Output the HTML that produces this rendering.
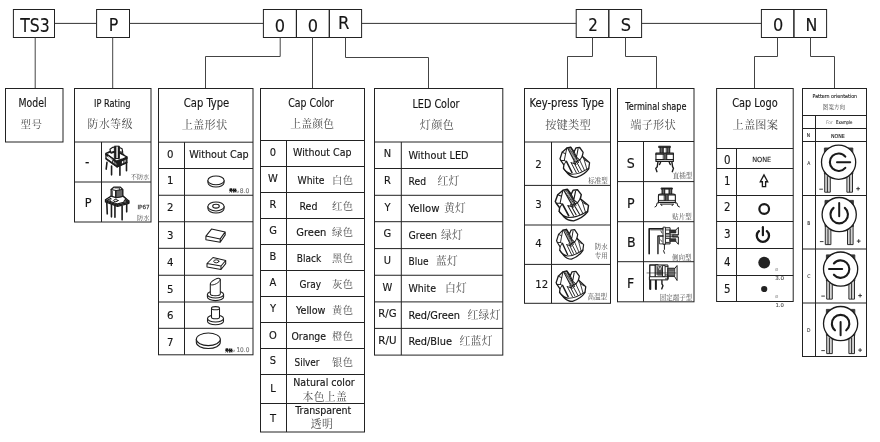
<!DOCTYPE html>
<html lang="zh"><head><meta charset="utf-8"><title>TS3 ordering code</title>
<style>
html,body{margin:0;padding:0;background:#fff}
svg{display:block;will-change:transform}
text.l{font-family:"DejaVu Sans Condensed","Liberation Sans",sans-serif}
text.c{font-family:"Liberation Serif","Noto Serif CJK SC",serif;font-weight:400}
path,rect,line{shape-rendering:auto}
</style></head><body>
<svg width="880" height="442" viewBox="0 0 880 442">
<rect x="0" y="0" width="880" height="442" fill="#fff" stroke="none"/>
<g fill="none">
<rect x="13.4" y="9.5" width="41.1" height="28.0" stroke="#222" stroke-width="1" fill="none"/>
<rect x="96.6" y="9.5" width="32.900000000000006" height="28.0" stroke="#222" stroke-width="1" fill="none"/>
<rect x="263.4" y="9.5" width="33.0" height="28.0" stroke="#222" stroke-width="1" fill="none"/>
<rect x="296.4" y="9.5" width="32.900000000000034" height="28.0" stroke="#222" stroke-width="1" fill="none"/>
<rect x="329.3" y="9.5" width="32.30000000000001" height="28.0" stroke="#222" stroke-width="1" fill="none"/>
<rect x="576.2" y="9.5" width="32.59999999999991" height="28.0" stroke="#222" stroke-width="1" fill="none"/>
<rect x="608.8" y="9.5" width="32.80000000000007" height="28.0" stroke="#222" stroke-width="1" fill="none"/>
<rect x="761.4" y="9.5" width="32.5" height="28.0" stroke="#222" stroke-width="1" fill="none"/>
<rect x="793.9" y="9.5" width="32.700000000000045" height="28.0" stroke="#222" stroke-width="1" fill="none"/>
<path d="M54.5 23.4L96.6 23.4" stroke="#333" stroke-width="1"/>
<path d="M129.5 23.4L263.4 23.4" stroke="#333" stroke-width="1"/>
<path d="M361.6 23.4L576.2 23.4" stroke="#333" stroke-width="1"/>
<path d="M641.6 23.4L761.4 23.4" stroke="#333" stroke-width="1"/>
<path d="M35.2 37.5L35.2 88" stroke="#444" stroke-width="1" fill="none"/>
<path d="M112.7 37.5L112.7 88" stroke="#444" stroke-width="1" fill="none"/>
<path d="M280.2 37.5L280.2 56.5L205.5 56.5L205.5 88" stroke="#444" stroke-width="1" fill="none"/>
<path d="M312.5 37.5L312.5 88" stroke="#444" stroke-width="1" fill="none"/>
<path d="M345.5 37.5L345.5 57.5L428.5 57.5L428.5 88" stroke="#444" stroke-width="1" fill="none"/>
<path d="M592.5 37.5L592.5 56.5L567.5 56.5L567.5 88" stroke="#444" stroke-width="1" fill="none"/>
<path d="M625.5 37.5L625.5 56.5L656.5 56.5L656.5 88" stroke="#444" stroke-width="1" fill="none"/>
<path d="M777.5 37.5L777.5 56.5L754.5 56.5L754.5 88" stroke="#444" stroke-width="1" fill="none"/>
<path d="M810.5 37.5L810.5 56.5L834.5 56.5L834.5 88" stroke="#444" stroke-width="1" fill="none"/>
<text class="l" x="35" y="31.7" font-size="19.5" text-anchor="middle" fill="#151515" stroke="#151515" stroke-width="0.14" textLength="29.5" lengthAdjust="spacingAndGlyphs">TS3</text>
<text class="l" x="113.4" y="30.8" font-size="17.6" text-anchor="middle" fill="#151515" stroke="#151515" stroke-width="0.14">P</text>
<text class="l" x="279.8" y="31.6" font-size="17.6" text-anchor="middle" fill="#151515" stroke="#151515" stroke-width="0.14" textLength="10.3" lengthAdjust="spacingAndGlyphs">0</text>
<text class="l" x="312.8" y="31.6" font-size="17.6" text-anchor="middle" fill="#151515" stroke="#151515" stroke-width="0.14" textLength="10.3" lengthAdjust="spacingAndGlyphs">0</text>
<text class="l" x="343.6" y="28.9" font-size="18.3" text-anchor="middle" fill="#151515" stroke="#151515" stroke-width="0.14">R</text>
<text class="l" x="593" y="31.3" font-size="17.6" text-anchor="middle" fill="#151515" stroke="#151515" stroke-width="0.14" textLength="9.6" lengthAdjust="spacingAndGlyphs">2</text>
<text class="l" x="626" y="31.3" font-size="18" text-anchor="middle" fill="#151515" stroke="#151515" stroke-width="0.14">S</text>
<text class="l" x="778.1" y="31.4" font-size="17.6" text-anchor="middle" fill="#151515" stroke="#151515" stroke-width="0.14" textLength="10.3" lengthAdjust="spacingAndGlyphs">0</text>
<text class="l" x="811.5" y="31.1" font-size="17.6" text-anchor="middle" fill="#151515" stroke="#151515" stroke-width="0.14">N</text>
<rect x="5.5" y="88.5" width="57.5" height="53.5" stroke="#222" stroke-width="1" fill="none"/>
<text class="l" x="32.5" y="107.3" font-size="11.5" text-anchor="middle" fill="#151515" stroke="#151515" stroke-width="0.14" textLength="28" lengthAdjust="spacingAndGlyphs">Model</text>
<text class="c" x="31.5" y="128" font-size="10.5" text-anchor="middle" fill="#4a4a4a" letter-spacing="0.5">型号</text>
<rect x="74.5" y="88.5" width="76.5" height="133.5" stroke="#222" stroke-width="1" fill="none"/>
<path d="M74.5 142L151 142" stroke="#222" stroke-width="1"/>
<path d="M74.5 182L151 182" stroke="#222" stroke-width="1"/>
<path d="M101.5 142L101.5 222" stroke="#222" stroke-width="1"/>
<text class="l" x="112.3" y="107.3" font-size="10.5" text-anchor="middle" fill="#151515" stroke="#151515" stroke-width="0.14" textLength="36.5" lengthAdjust="spacingAndGlyphs">IP Rating</text>
<text class="c" x="110.3" y="128" font-size="10.8" text-anchor="middle" fill="#4a4a4a" letter-spacing="0.6">防水等级</text>
<text class="l" x="87.3" y="167.3" font-size="13.5" text-anchor="middle" fill="#151515" stroke="#151515" stroke-width="0.14">-</text>
<text class="l" x="88.2" y="207.2" font-size="12.5" text-anchor="middle" fill="#151515" stroke="#151515" stroke-width="0.14">P</text>
<text class="c" x="149.3" y="179" font-size="6.2" text-anchor="end" fill="#4a4a4a">不防水</text>
<text class="l" x="149.6" y="209.3" font-size="5.6" text-anchor="end" fill="#444" stroke="#444" stroke-width="0.25" textLength="12.2" lengthAdjust="spacingAndGlyphs">IP67</text>
<text class="c" x="149.4" y="219.8" font-size="6.2" text-anchor="end" fill="#4a4a4a">防水</text>
<rect x="158.5" y="88.5" width="94.5" height="266.3" stroke="#222" stroke-width="1" fill="none"/>
<path d="M158.5 142.2L253 142.2" stroke="#222" stroke-width="1"/>
<path d="M158.5 168.5L253 168.5" stroke="#222" stroke-width="1"/>
<path d="M158.5 195.25L253 195.25" stroke="#222" stroke-width="1"/>
<path d="M158.5 221.75L253 221.75" stroke="#222" stroke-width="1"/>
<path d="M158.5 248.3L253 248.3" stroke="#222" stroke-width="1"/>
<path d="M158.5 275.25L253 275.25" stroke="#222" stroke-width="1"/>
<path d="M158.5 302L253 302" stroke="#222" stroke-width="1"/>
<path d="M158.5 328.3L253 328.3" stroke="#222" stroke-width="1"/>
<path d="M184.5 142.2L184.5 354.8" stroke="#222" stroke-width="1"/>
<text class="l" x="206.5" y="107" font-size="11.5" text-anchor="middle" fill="#151515" stroke="#151515" stroke-width="0.14" textLength="45.5" lengthAdjust="spacingAndGlyphs">Cap Type</text>
<text class="c" x="204.5" y="129" font-size="11.2" text-anchor="middle" fill="#4a4a4a" letter-spacing="0.2">上盖形状</text>
<text class="l" x="170.3" y="158" font-size="11.3" text-anchor="middle" fill="#151515" stroke="#151515" stroke-width="0.14">0</text>
<text class="l" x="170.3" y="184.2" font-size="11.3" text-anchor="middle" fill="#151515" stroke="#151515" stroke-width="0.14">1</text>
<text class="l" x="170.3" y="211.2" font-size="11.3" text-anchor="middle" fill="#151515" stroke="#151515" stroke-width="0.14">2</text>
<text class="l" x="170.3" y="238.8" font-size="11.3" text-anchor="middle" fill="#151515" stroke="#151515" stroke-width="0.14">3</text>
<text class="l" x="170.3" y="265.7" font-size="11.3" text-anchor="middle" fill="#151515" stroke="#151515" stroke-width="0.14">4</text>
<text class="l" x="170.3" y="293" font-size="11.3" text-anchor="middle" fill="#151515" stroke="#151515" stroke-width="0.14">5</text>
<text class="l" x="170.3" y="319.4" font-size="11.3" text-anchor="middle" fill="#151515" stroke="#151515" stroke-width="0.14">6</text>
<text class="l" x="170.3" y="345.5" font-size="11.3" text-anchor="middle" fill="#151515" stroke="#151515" stroke-width="0.14">7</text>
<text class="l" x="189.2" y="157.8" font-size="11" fill="#151515" stroke="#151515" stroke-width="0.14" textLength="59.5" lengthAdjust="spacingAndGlyphs">Without Cap</text>
<text class="c" x="229.3" y="192.4" font-size="3.7" style="font-weight:900;fill:#000;stroke:#000;stroke-width:0.35">外径</text>
<text class="l" x="238" y="192.5" font-size="4.5" text-anchor="middle" fill="#999" stroke="#999" stroke-width="0.08">⌀</text>
<text class="l" x="249.4" y="192.8" font-size="6.4" text-anchor="end" fill="#6a6a6a" stroke="#6a6a6a" stroke-width="0.08" textLength="9.6" lengthAdjust="spacingAndGlyphs">8.0</text>
<text class="c" x="225.3" y="351.5" font-size="3.7" style="font-weight:900;fill:#000;stroke:#000;stroke-width:0.35">外径</text>
<text class="l" x="234" y="351.6" font-size="4.5" text-anchor="middle" fill="#999" stroke="#999" stroke-width="0.08">⌀</text>
<text class="l" x="249.4" y="351.8" font-size="6.4" text-anchor="end" fill="#6a6a6a" stroke="#6a6a6a" stroke-width="0.08" textLength="13" lengthAdjust="spacingAndGlyphs">10.0</text>
<rect x="260.5" y="88.5" width="104.0" height="343.5" stroke="#222" stroke-width="1" fill="none"/>
<path d="M260.5 140.5L364.5 140.5" stroke="#222" stroke-width="1"/>
<path d="M260.5 166.5L364.5 166.5" stroke="#222" stroke-width="1"/>
<path d="M260.5 192.5L364.5 192.5" stroke="#222" stroke-width="1"/>
<path d="M260.5 218.5L364.5 218.5" stroke="#222" stroke-width="1"/>
<path d="M260.5 244.5L364.5 244.5" stroke="#222" stroke-width="1"/>
<path d="M260.5 270.5L364.5 270.5" stroke="#222" stroke-width="1"/>
<path d="M260.5 296.5L364.5 296.5" stroke="#222" stroke-width="1"/>
<path d="M260.5 322.5L364.5 322.5" stroke="#222" stroke-width="1"/>
<path d="M260.5 348.5L364.5 348.5" stroke="#222" stroke-width="1"/>
<path d="M260.5 374.5L364.5 374.5" stroke="#222" stroke-width="1"/>
<path d="M260.5 403.5L364.5 403.5" stroke="#222" stroke-width="1"/>
<path d="M286.5 140.5L286.5 432" stroke="#222" stroke-width="1"/>
<text class="l" x="311" y="107" font-size="11.5" text-anchor="middle" fill="#151515" stroke="#151515" stroke-width="0.14" textLength="45.5" lengthAdjust="spacingAndGlyphs">Cap Color</text>
<text class="c" x="312.3" y="128.3" font-size="10.8" text-anchor="middle" fill="#4a4a4a" letter-spacing="0.2">上盖颜色</text>
<text class="l" x="273" y="156.0" font-size="11" text-anchor="middle" fill="#151515" stroke="#151515" stroke-width="0.14">0</text>
<text class="l" x="273" y="182.0" font-size="11" text-anchor="middle" fill="#151515" stroke="#151515" stroke-width="0.14">W</text>
<text class="l" x="273" y="208.0" font-size="11" text-anchor="middle" fill="#151515" stroke="#151515" stroke-width="0.14">R</text>
<text class="l" x="273" y="234.0" font-size="11" text-anchor="middle" fill="#151515" stroke="#151515" stroke-width="0.14">G</text>
<text class="l" x="273" y="260.0" font-size="11" text-anchor="middle" fill="#151515" stroke="#151515" stroke-width="0.14">B</text>
<text class="l" x="273" y="286.0" font-size="11" text-anchor="middle" fill="#151515" stroke="#151515" stroke-width="0.14">A</text>
<text class="l" x="273" y="312.0" font-size="11" text-anchor="middle" fill="#151515" stroke="#151515" stroke-width="0.14">Y</text>
<text class="l" x="273" y="339.2" font-size="11" text-anchor="middle" fill="#151515" stroke="#151515" stroke-width="0.14">O</text>
<text class="l" x="273" y="364.0" font-size="11" text-anchor="middle" fill="#151515" stroke="#151515" stroke-width="0.14">S</text>
<text class="l" x="273" y="391.5" font-size="11" text-anchor="middle" fill="#151515" stroke="#151515" stroke-width="0.14">L</text>
<text class="l" x="273" y="422.05" font-size="11" text-anchor="middle" fill="#151515" stroke="#151515" stroke-width="0.14">T</text>
<text class="l" x="293" y="155.5" font-size="11" fill="#151515" stroke="#151515" stroke-width="0.14" textLength="58.5" lengthAdjust="spacingAndGlyphs">Without Cap</text>
<text class="l" x="297.5" y="183.5" font-size="11" fill="#151515" stroke="#151515" stroke-width="0.14" textLength="27" lengthAdjust="spacingAndGlyphs">White</text>
<text class="c" x="332" y="183.5" font-size="10.3" fill="#4a4a4a" letter-spacing="0.4">白色</text>
<text class="l" x="299.5" y="209.5" font-size="11" fill="#151515" stroke="#151515" stroke-width="0.14" textLength="18" lengthAdjust="spacingAndGlyphs">Red</text>
<text class="c" x="332" y="209.5" font-size="10.3" fill="#4a4a4a" letter-spacing="0.4">红色</text>
<text class="l" x="296.3" y="235.5" font-size="11" fill="#151515" stroke="#151515" stroke-width="0.14" textLength="30" lengthAdjust="spacingAndGlyphs">Green</text>
<text class="c" x="332" y="235.5" font-size="10.3" fill="#4a4a4a" letter-spacing="0.4">绿色</text>
<text class="l" x="296.8" y="261.5" font-size="11" fill="#151515" stroke="#151515" stroke-width="0.14" textLength="24.5" lengthAdjust="spacingAndGlyphs">Black</text>
<text class="c" x="332" y="261.5" font-size="10.3" fill="#4a4a4a" letter-spacing="0.4">黑色</text>
<text class="l" x="299.5" y="287.5" font-size="11" fill="#151515" stroke="#151515" stroke-width="0.14" textLength="21.5" lengthAdjust="spacingAndGlyphs">Gray</text>
<text class="c" x="332" y="287.5" font-size="10.3" fill="#4a4a4a" letter-spacing="0.4">灰色</text>
<text class="l" x="296" y="313.5" font-size="11" fill="#151515" stroke="#151515" stroke-width="0.14" textLength="29.5" lengthAdjust="spacingAndGlyphs">Yellow</text>
<text class="c" x="332" y="313.5" font-size="10.3" fill="#4a4a4a" letter-spacing="0.4">黄色</text>
<text class="l" x="291.5" y="339.5" font-size="11" fill="#151515" stroke="#151515" stroke-width="0.14" textLength="34.5" lengthAdjust="spacingAndGlyphs">Orange</text>
<text class="c" x="332" y="339.5" font-size="10.3" fill="#4a4a4a" letter-spacing="0.4">橙色</text>
<text class="l" x="294.5" y="365.5" font-size="11" fill="#151515" stroke="#151515" stroke-width="0.14" textLength="25" lengthAdjust="spacingAndGlyphs">Silver</text>
<text class="c" x="332" y="365.5" font-size="10.3" fill="#4a4a4a" letter-spacing="0.4">银色</text>
<text class="l" x="324" y="386" font-size="11" text-anchor="middle" fill="#151515" stroke="#151515" stroke-width="0.14" textLength="61.5" lengthAdjust="spacingAndGlyphs">Natural color</text>
<text class="c" x="324.8" y="400.5" font-size="10.8" text-anchor="middle" fill="#4a4a4a" letter-spacing="0.3">本色上盖</text>
<text class="l" x="323.3" y="413.7" font-size="11" text-anchor="middle" fill="#151515" stroke="#151515" stroke-width="0.14" textLength="56" lengthAdjust="spacingAndGlyphs">Transparent</text>
<text class="c" x="322" y="428" font-size="10.8" text-anchor="middle" fill="#4a4a4a" letter-spacing="0.4">透明</text>
<rect x="374.5" y="88.5" width="128.3" height="266.6" stroke="#222" stroke-width="1" fill="none"/>
<path d="M374.5 142L502.8 142" stroke="#222" stroke-width="1"/>
<path d="M374.5 168.5L502.8 168.5" stroke="#222" stroke-width="1"/>
<path d="M374.5 195.3L502.8 195.3" stroke="#222" stroke-width="1"/>
<path d="M374.5 221.7L502.8 221.7" stroke="#222" stroke-width="1"/>
<path d="M374.5 248.6L502.8 248.6" stroke="#222" stroke-width="1"/>
<path d="M374.5 275.25L502.8 275.25" stroke="#222" stroke-width="1"/>
<path d="M374.5 301.9L502.8 301.9" stroke="#222" stroke-width="1"/>
<path d="M374.5 328.4L502.8 328.4" stroke="#222" stroke-width="1"/>
<path d="M401.3 142L401.3 355.1" stroke="#222" stroke-width="1"/>
<text class="l" x="436" y="107.7" font-size="11.5" text-anchor="middle" fill="#151515" stroke="#151515" stroke-width="0.14" textLength="47" lengthAdjust="spacingAndGlyphs">LED Color</text>
<text class="c" x="437" y="129" font-size="11.2" text-anchor="middle" fill="#4a4a4a" letter-spacing="0.3">灯颜色</text>
<text class="l" x="387.4" y="157.25" font-size="11" text-anchor="middle" fill="#151515" stroke="#151515" stroke-width="0.14">N</text>
<text class="l" x="387.4" y="183.9" font-size="11" text-anchor="middle" fill="#151515" stroke="#151515" stroke-width="0.14">R</text>
<text class="l" x="387.4" y="210.5" font-size="11" text-anchor="middle" fill="#151515" stroke="#151515" stroke-width="0.14">Y</text>
<text class="l" x="387.4" y="237.14999999999998" font-size="11" text-anchor="middle" fill="#151515" stroke="#151515" stroke-width="0.14">G</text>
<text class="l" x="387.4" y="263.925" font-size="11" text-anchor="middle" fill="#151515" stroke="#151515" stroke-width="0.14">U</text>
<text class="l" x="387.4" y="290.575" font-size="11" text-anchor="middle" fill="#151515" stroke="#151515" stroke-width="0.14">W</text>
<text class="l" x="387.4" y="317.15" font-size="11" text-anchor="middle" fill="#151515" stroke="#151515" stroke-width="0.14" textLength="18.2" lengthAdjust="spacingAndGlyphs">R/G</text>
<text class="l" x="387.4" y="343.75" font-size="11" text-anchor="middle" fill="#151515" stroke="#151515" stroke-width="0.14" textLength="18.2" lengthAdjust="spacingAndGlyphs">R/U</text>
<text class="l" x="408.5" y="158.65" font-size="11" fill="#151515" stroke="#151515" stroke-width="0.14" textLength="60" lengthAdjust="spacingAndGlyphs">Without LED</text>
<text class="l" x="408.5" y="185.3" font-size="11" fill="#151515" stroke="#151515" stroke-width="0.14" textLength="17.5" lengthAdjust="spacingAndGlyphs">Red</text>
<text class="c" x="437.5" y="185.3" font-size="10.8" fill="#4a4a4a" letter-spacing="0.3">红灯</text>
<text class="l" x="408.5" y="211.9" font-size="11" fill="#151515" stroke="#151515" stroke-width="0.14" textLength="31" lengthAdjust="spacingAndGlyphs">Yellow</text>
<text class="c" x="444" y="211.9" font-size="10.8" fill="#4a4a4a" letter-spacing="0.3">黄灯</text>
<text class="l" x="408.5" y="238.54999999999998" font-size="11" fill="#151515" stroke="#151515" stroke-width="0.14" textLength="28.5" lengthAdjust="spacingAndGlyphs">Green</text>
<text class="c" x="441" y="238.54999999999998" font-size="10.8" fill="#4a4a4a" letter-spacing="0.3">绿灯</text>
<text class="l" x="408.5" y="265.325" font-size="11" fill="#151515" stroke="#151515" stroke-width="0.14" textLength="20" lengthAdjust="spacingAndGlyphs">Blue</text>
<text class="c" x="436" y="265.325" font-size="10.8" fill="#4a4a4a" letter-spacing="0.3">蓝灯</text>
<text class="l" x="408.5" y="291.97499999999997" font-size="11" fill="#151515" stroke="#151515" stroke-width="0.14" textLength="27.5" lengthAdjust="spacingAndGlyphs">White</text>
<text class="c" x="445" y="291.97499999999997" font-size="10.8" fill="#4a4a4a" letter-spacing="0.3">白灯</text>
<text class="l" x="408.5" y="318.54999999999995" font-size="11" fill="#151515" stroke="#151515" stroke-width="0.14" textLength="51.5" lengthAdjust="spacingAndGlyphs">Red/Green</text>
<text class="c" x="467.5" y="318.54999999999995" font-size="10.8" fill="#4a4a4a" letter-spacing="0.3">红绿灯</text>
<text class="l" x="408.5" y="345.15" font-size="11" fill="#151515" stroke="#151515" stroke-width="0.14" textLength="43.5" lengthAdjust="spacingAndGlyphs">Red/Blue</text>
<text class="c" x="459.5" y="345.15" font-size="10.8" fill="#4a4a4a" letter-spacing="0.3">红蓝灯</text>
<rect x="524.5" y="88.5" width="86.0" height="214.8" stroke="#222" stroke-width="1" fill="none"/>
<path d="M524.5 142L610.5 142" stroke="#222" stroke-width="1"/>
<path d="M524.5 185.4L610.5 185.4" stroke="#222" stroke-width="1"/>
<path d="M524.5 225L610.5 225" stroke="#222" stroke-width="1"/>
<path d="M524.5 264.4L610.5 264.4" stroke="#222" stroke-width="1"/>
<path d="M551.5 142L551.5 303.3" stroke="#222" stroke-width="1"/>
<text class="l" x="566.8" y="107" font-size="11.5" text-anchor="middle" fill="#151515" stroke="#151515" stroke-width="0.14" textLength="74.5" lengthAdjust="spacingAndGlyphs">Key-press Type</text>
<text class="c" x="568" y="129" font-size="11.2" text-anchor="middle" fill="#4a4a4a" letter-spacing="0.2">按键类型</text>
<text class="l" x="535.2" y="167.9" font-size="11.3" fill="#151515" stroke="#151515" stroke-width="0.14">2</text>
<text class="l" x="535.2" y="207.8" font-size="11.3" fill="#151515" stroke="#151515" stroke-width="0.14">3</text>
<text class="l" x="535.2" y="246.8" font-size="11.3" fill="#151515" stroke="#151515" stroke-width="0.14">4</text>
<text class="l" x="535.2" y="287.5" font-size="11.3" fill="#151515" stroke="#151515" stroke-width="0.14">12</text>
<text class="c" x="607.7" y="183.3" font-size="6.5" text-anchor="end" fill="#4a4a4a">标准型</text>
<text class="c" x="607.7" y="249" font-size="6.5" text-anchor="end" fill="#4a4a4a">防水</text>
<text class="c" x="607.7" y="257.5" font-size="6.5" text-anchor="end" fill="#4a4a4a">专用</text>
<text class="c" x="607.1" y="299.2" font-size="6.5" text-anchor="end" fill="#4a4a4a">高温型</text>
<rect x="617.5" y="88.5" width="76.5" height="213.3" stroke="#222" stroke-width="1" fill="none"/>
<path d="M617.5 141.5L694 141.5" stroke="#222" stroke-width="1"/>
<path d="M617.5 181.6L694 181.6" stroke="#222" stroke-width="1"/>
<path d="M617.5 221.7L694 221.7" stroke="#222" stroke-width="1"/>
<path d="M617.5 261.7L694 261.7" stroke="#222" stroke-width="1"/>
<path d="M643.5 141.5L643.5 301.8" stroke="#222" stroke-width="1"/>
<text class="l" x="655.9" y="109.5" font-size="9.6" text-anchor="middle" fill="#151515" stroke="#151515" stroke-width="0.14" textLength="61.2" lengthAdjust="spacingAndGlyphs">Terminal shape</text>
<text class="c" x="653.1" y="129" font-size="11.2" text-anchor="middle" fill="#4a4a4a" letter-spacing="0.2">端子形状</text>
<text class="l" x="626.8" y="168.4" font-size="14" fill="#151515" stroke="#151515" stroke-width="0.14">S</text>
<text class="l" x="626.9" y="207.5" font-size="14" fill="#151515" stroke="#151515" stroke-width="0.14">P</text>
<text class="l" x="626.9" y="246.5" font-size="14" fill="#151515" stroke="#151515" stroke-width="0.14">B</text>
<text class="l" x="626.9" y="288" font-size="14" fill="#151515" stroke="#151515" stroke-width="0.14">F</text>
<text class="c" x="692.2" y="178.2" font-size="6.5" text-anchor="end" fill="#4a4a4a">直插型</text>
<text class="c" x="691.8" y="219.2" font-size="6.5" text-anchor="end" fill="#4a4a4a">贴片型</text>
<text class="c" x="691.5" y="259.5" font-size="6.5" text-anchor="end" fill="#4a4a4a">侧向型</text>
<text class="c" x="692.2" y="300.4" font-size="6.5" text-anchor="end" fill="#4a4a4a">固定端子型</text>
<rect x="716.6" y="88.5" width="76.60000000000002" height="213.0" stroke="#222" stroke-width="1" fill="none"/>
<path d="M716.6 148.5L793.2 148.5" stroke="#222" stroke-width="1"/>
<path d="M716.6 168.5L793.2 168.5" stroke="#222" stroke-width="1"/>
<path d="M716.6 195.5L793.2 195.5" stroke="#222" stroke-width="1"/>
<path d="M716.6 221.5L793.2 221.5" stroke="#222" stroke-width="1"/>
<path d="M716.6 248.5L793.2 248.5" stroke="#222" stroke-width="1"/>
<path d="M716.6 275.5L793.2 275.5" stroke="#222" stroke-width="1"/>
<path d="M736.5 148.5L736.5 301.5" stroke="#222" stroke-width="1"/>
<text class="l" x="755" y="107.3" font-size="11.5" text-anchor="middle" fill="#151515" stroke="#151515" stroke-width="0.14" textLength="45.5" lengthAdjust="spacingAndGlyphs">Cap Logo</text>
<text class="c" x="755.3" y="128.7" font-size="11.2" text-anchor="middle" fill="#4a4a4a" letter-spacing="0.2">上盖图案</text>
<text class="l" x="727.2" y="163.8" font-size="11.4" text-anchor="middle" fill="#151515" stroke="#151515" stroke-width="0.14">0</text>
<text class="l" x="727.2" y="184.5" font-size="11.4" text-anchor="middle" fill="#151515" stroke="#151515" stroke-width="0.14">1</text>
<text class="l" x="727.2" y="211.4" font-size="11.4" text-anchor="middle" fill="#151515" stroke="#151515" stroke-width="0.14">2</text>
<text class="l" x="727.2" y="238" font-size="11.4" text-anchor="middle" fill="#151515" stroke="#151515" stroke-width="0.14">3</text>
<text class="l" x="727.2" y="266.2" font-size="11.4" text-anchor="middle" fill="#151515" stroke="#151515" stroke-width="0.14">4</text>
<text class="l" x="727.2" y="293.2" font-size="11.4" text-anchor="middle" fill="#151515" stroke="#151515" stroke-width="0.14">5</text>
<text class="l" x="761.7" y="161.8" font-size="7" text-anchor="middle" fill="#151515" stroke="#151515" stroke-width="0.08" textLength="19" lengthAdjust="spacingAndGlyphs">NONE</text>
<text class="l" x="776.8" y="271.3" font-size="5.5" text-anchor="middle" fill="#999" stroke="#999" stroke-width="0.08">⌀</text>
<text class="l" x="779.7" y="279.6" font-size="5.4" text-anchor="middle" fill="#444" stroke="#444" stroke-width="0.08" textLength="9" lengthAdjust="spacingAndGlyphs">3.0</text>
<text class="l" x="776.8" y="298.2" font-size="5.5" text-anchor="middle" fill="#999" stroke="#999" stroke-width="0.08">⌀</text>
<text class="l" x="779.7" y="306.6" font-size="5.4" text-anchor="middle" fill="#444" stroke="#444" stroke-width="0.08" textLength="8.4" lengthAdjust="spacingAndGlyphs">1.0</text>
<path d="M764 174.9l-3.7 6.9h2.1v4.8h3.2v-4.8h2.1z" fill="none" stroke="#1a1a1a" stroke-width="1.35" stroke-linejoin="miter"/>
<circle cx="764.2" cy="209" r="4.85" fill="none" stroke="#1a1a1a" stroke-width="2.2"/>
<path d="M758.9 231.1a6.1 6.1 0 1 0 8 0" fill="none" stroke="#1a1a1a" stroke-width="2.3" stroke-linecap="round"/><path d="M762.9 227.2v8" stroke="#1a1a1a" stroke-width="2.2" stroke-linecap="round"/>
<circle cx="764.2" cy="262.6" r="5.9" fill="#222"/>
<circle cx="764.2" cy="289" r="3.1" fill="#222"/>
<rect x="802.5" y="88.5" width="64.0" height="268.0" stroke="#222" stroke-width="1" fill="none"/>
<path d="M802.5 115.5L866.5 115.5" stroke="#222" stroke-width="1"/>
<path d="M802.5 128.5L866.5 128.5" stroke="#222" stroke-width="1"/>
<path d="M802.5 141.5L866.5 141.5" stroke="#222" stroke-width="1"/>
<path d="M802.5 195.5L866.5 195.5" stroke="#222" stroke-width="1"/>
<path d="M802.5 249L866.5 249" stroke="#222" stroke-width="1"/>
<path d="M802.5 303L866.5 303" stroke="#222" stroke-width="1"/>
<path d="M815.5 115.5L815.5 356.5" stroke="#222" stroke-width="1"/>
<text class="l" x="834.8" y="97.9" font-size="5.5" text-anchor="middle" fill="#151515" stroke="#151515" stroke-width="0.08" textLength="44.6" lengthAdjust="spacingAndGlyphs">Pattern orientation</text>
<text class="c" x="834" y="108.6" font-size="5.5" text-anchor="middle" fill="#4a4a4a" letter-spacing="0.1">图案方向</text>
<text class="l" x="829.4" y="124.1" font-size="4.8" text-anchor="middle" fill="#999" stroke="#999" stroke-width="0.08">For</text>
<text class="l" x="844.2" y="124.1" font-size="5" text-anchor="middle" fill="#151515" stroke="#151515" stroke-width="0.08" textLength="16.4" lengthAdjust="spacingAndGlyphs">Example</text>
<text class="l" x="808.4" y="136.9" font-size="5" text-anchor="middle" fill="#151515" stroke="#151515" stroke-width="0.08">N</text>
<text class="l" x="837.9" y="137.6" font-size="5.4" text-anchor="middle" fill="#151515" stroke="#151515" stroke-width="0.08" textLength="13.9" lengthAdjust="spacingAndGlyphs">NONE</text>
<text class="l" x="808.8" y="164.7" font-size="5" text-anchor="middle" fill="#333" stroke="#333" stroke-width="0.08">A</text>
<g transform="translate(838.6 162.2)"><path d="M-14.2 -14.2h28.4v26h-28.4z" fill="#3a3a3a" stroke="#333" stroke-width="0.9"/><path d="M-13.6 12.5h5v17h-5zM8.6 12.5h5v17h-5z" fill="#d4d4d4" stroke="none"/><path d="M-13.9 11v19h5.6v-17M-11.2 14v16M8.3 13v17h5.6v-19M11 14v16" fill="none" stroke="#2a2a2a" stroke-width="1"/><circle cx="0" cy="0" r="17.1" fill="#fff" stroke="#1a1a1a" stroke-width="1.3"/><g transform="rotate(0)"><path d="M6.7 -5.62a8.75 8.75 0 1 0 0 11.24" fill="none" stroke="#1a1a1a" stroke-width="2.1" stroke-linecap="round"/><path d="M-1.6 0h13.2" stroke="#1a1a1a" stroke-width="2" stroke-linecap="round"/></g><path d="M-19.3 27h3.6M17.6 26.5h3.8M19.5 24.6v3.8" stroke="#222" stroke-width="0.9"/></g>
<text class="l" x="808.8" y="225.4" font-size="5" text-anchor="middle" fill="#333" stroke="#333" stroke-width="0.08">B</text>
<g transform="translate(839.2 214.6)"><path d="M-14.2 -14.2h28.4v26h-28.4z" fill="#3a3a3a" stroke="#333" stroke-width="0.9"/><path d="M-13.6 12.5h5v17h-5zM8.6 12.5h5v17h-5z" fill="#d4d4d4" stroke="none"/><path d="M-13.9 11v19h5.6v-17M-11.2 14v16M8.3 13v17h5.6v-19M11 14v16" fill="none" stroke="#2a2a2a" stroke-width="1"/><circle cx="0" cy="0" r="17.1" fill="#fff" stroke="#1a1a1a" stroke-width="1.3"/><g transform="rotate(-90)"><path d="M6.7 -5.62a8.75 8.75 0 1 0 0 11.24" fill="none" stroke="#1a1a1a" stroke-width="2.1" stroke-linecap="round"/><path d="M-1.6 0h13.2" stroke="#1a1a1a" stroke-width="2" stroke-linecap="round"/></g><path d="M-19.3 27h3.6M17.6 26.5h3.8M19.5 24.6v3.8" stroke="#222" stroke-width="0.9"/></g>
<text class="l" x="808.8" y="277.7" font-size="5" text-anchor="middle" fill="#333" stroke="#333" stroke-width="0.08">C</text>
<g transform="translate(840.6 269.1)"><path d="M-14.2 -14.2h28.4v26h-28.4z" fill="#3a3a3a" stroke="#333" stroke-width="0.9"/><path d="M-13.6 12.5h5v17h-5zM8.6 12.5h5v17h-5z" fill="#d4d4d4" stroke="none"/><path d="M-13.9 11v19h5.6v-17M-11.2 14v16M8.3 13v17h5.6v-19M11 14v16" fill="none" stroke="#2a2a2a" stroke-width="1"/><circle cx="0" cy="0" r="17.1" fill="#fff" stroke="#1a1a1a" stroke-width="1.3"/><g transform="rotate(180)"><path d="M6.7 -5.62a8.75 8.75 0 1 0 0 11.24" fill="none" stroke="#1a1a1a" stroke-width="2.1" stroke-linecap="round"/><path d="M-1.6 0h13.2" stroke="#1a1a1a" stroke-width="2" stroke-linecap="round"/></g><path d="M-19.3 27h3.6M17.6 26.5h3.8M19.5 24.6v3.8" stroke="#222" stroke-width="0.9"/></g>
<text class="l" x="808.8" y="331.5" font-size="5" text-anchor="middle" fill="#333" stroke="#333" stroke-width="0.08">D</text>
<g transform="translate(840.6 323.6)"><path d="M-14.2 -14.2h28.4v26h-28.4z" fill="#3a3a3a" stroke="#333" stroke-width="0.9"/><path d="M-13.6 12.5h5v17h-5zM8.6 12.5h5v17h-5z" fill="#d4d4d4" stroke="none"/><path d="M-13.9 11v19h5.6v-17M-11.2 14v16M8.3 13v17h5.6v-19M11 14v16" fill="none" stroke="#2a2a2a" stroke-width="1"/><circle cx="0" cy="0" r="17.1" fill="#fff" stroke="#1a1a1a" stroke-width="1.3"/><g transform="rotate(90)"><path d="M6.7 -5.62a8.75 8.75 0 1 0 0 11.24" fill="none" stroke="#1a1a1a" stroke-width="2.1" stroke-linecap="round"/><path d="M-1.6 0h13.2" stroke="#1a1a1a" stroke-width="2" stroke-linecap="round"/></g><path d="M-19.3 27h3.6M17.6 26.5h3.8M19.5 24.6v3.8" stroke="#222" stroke-width="0.9"/></g>
</g>
<g transform="translate(100 140) scale(0.09960)" fill="none" stroke="#1c1c1c" stroke-linejoin="round" stroke-linecap="round">
<path d="M70 225L62 293M116 262V350M200 262V354M266 232V308" stroke-width="16"/>
<path d="M60 135L140 100L270 170V228L172 270L60 190Z" fill="#fff" stroke-width="13"/>
<path d="M62 146L172 226L268 182" stroke-width="20"/>
<path d="M62 186L172 266L268 224" stroke-width="14"/>
<path d="M60 135L172 215L270 170M172 215V268" stroke-width="11"/>
<path d="M172 208L216 190V252L172 270Z" fill="#1c1c1c" stroke-width="8"/>
<path d="M150 212V254M128 196V238M240 188V238M262 178V228" stroke-width="12"/>
<path d="M84 168L124 198" stroke="#fff" stroke-width="9"/>
<path d="M100 92L128 74L152 70V114L106 124Z" fill="#fff" stroke-width="12"/>
<path d="M190 72L222 88L228 124L190 116Z" fill="#fff" stroke-width="12"/>
<path d="M148 62h46v124h-46z" fill="#fff" stroke-width="10"/>
<path d="M156 68V184M187 68V184" stroke-width="17"/>
<path d="M112 132L150 120M195 126L238 144M100 120L80 130" stroke-width="14"/>
</g>
<g transform="translate(100 180) scale(0.09960)" fill="none" stroke="#1c1c1c" stroke-linejoin="round" stroke-linecap="round">
<path d="M68 222L73 340M115 245V370M150 255V374M222 262V400M268 235V320" stroke-width="16"/>
<path d="M55 198L112 160H230L290 210V234L176 264L55 220Z" fill="#fff" stroke-width="13"/>
<path d="M55 198L176 240L290 210M176 240V264" stroke-width="11"/>
<path d="M58 210L176 253L288 223" stroke-width="15"/>
<ellipse cx="158" cy="207" rx="24" ry="10" stroke-width="10"/>
<path d="M235 165L262 190L240 215M250 200L280 212" stroke-width="11"/>
<path d="M72 188L104 204M90 176L112 190" stroke-width="11"/>
<path d="M112 95L138 72H205L228 94V165L160 178L112 162Z" fill="#fff" stroke-width="13"/>
<path d="M160 106L228 94V165L160 178Z" fill="#666" stroke-width="10"/>
<path d="M112 95L160 106V178" stroke-width="11"/>
<path d="M150 80H195V100M124 110V160" stroke-width="8"/>
</g>
<g transform="translate(554.89 144.02) scale(0.08563 0.08687)" fill="none" stroke="#1c1c1c" stroke-linejoin="round" stroke-linecap="round">
<path d="M60 170L85 95L140 45L185 35L225 90L245 45L290 40L330 95L320 140L405 215L395 285Q350 350 250 385Q190 385 150 340L100 280L105 240L70 190Z" fill="#fff" stroke-width="15"/>
<path d="M168 46L258 220" stroke-width="30" stroke-dasharray="7 7" stroke-linecap="butt" stroke="#111"/>
<path d="M150 50L245 232M185 38L275 212" stroke-width="12"/>
<path d="M85 95L125 112L110 190L70 190M125 112L140 45M105 240L130 200L110 190" stroke-width="11"/>
<path d="M135 200L200 330" stroke-width="17"/>
<path d="M190 215L250 330M218 205L276 318M245 232L190 215M250 200L312 312" stroke-width="11"/>
<path d="M225 90L252 152L270 58M252 152L290 186L320 140M290 186L250 200" stroke-width="12"/>
<path d="M290 186L345 302M320 140L342 180L380 204M342 180L374 292" stroke-width="10"/>
<path d="M150 340Q250 372 396 278M100 280Q120 322 192 346" stroke-width="12"/>
</g>
<g transform="translate(549.50 186.11) scale(0.09634 0.09022)" fill="none" stroke="#1c1c1c" stroke-linejoin="round" stroke-linecap="round">
<path d="M60 170L85 95L140 45L185 35L225 90L245 45L290 40L330 95L320 140L405 215L395 285Q350 350 250 385Q190 385 150 340L100 280L105 240L70 190Z" fill="#fff" stroke-width="15"/>
<path d="M168 46L258 220" stroke-width="30" stroke-dasharray="7 7" stroke-linecap="butt" stroke="#111"/>
<path d="M150 50L245 232M185 38L275 212" stroke-width="12"/>
<path d="M85 95L125 112L110 190L70 190M125 112L140 45M105 240L130 200L110 190" stroke-width="11"/>
<path d="M135 200L200 330" stroke-width="17"/>
<path d="M190 215L250 330M218 205L276 318M245 232L190 215M250 200L312 312" stroke-width="11"/>
<path d="M225 90L252 152L270 58M252 152L290 186L320 140M290 186L250 200" stroke-width="12"/>
<path d="M290 186L345 302M320 140L342 180L380 204M342 180L374 292" stroke-width="10"/>
<path d="M150 340Q250 372 396 278M100 280Q120 322 192 346" stroke-width="12"/>
</g>
<g transform="translate(551.89 226.26) scale(0.07831 0.08547)" fill="none" stroke="#1c1c1c" stroke-linejoin="round" stroke-linecap="round">
<path d="M60 170L85 95L140 45L185 35L225 90L245 45L290 40L330 95L320 140L405 215L395 285Q350 350 250 385Q190 385 150 340L100 280L105 240L70 190Z" fill="#fff" stroke-width="15"/>
<path d="M168 46L258 220" stroke-width="30" stroke-dasharray="7 7" stroke-linecap="butt" stroke="#111"/>
<path d="M150 50L245 232M185 38L275 212" stroke-width="12"/>
<path d="M85 95L125 112L110 190L70 190M125 112L140 45M105 240L130 200L110 190" stroke-width="11"/>
<path d="M135 200L200 330" stroke-width="17"/>
<path d="M190 215L250 330M218 205L276 318M245 232L190 215M250 200L312 312" stroke-width="11"/>
<path d="M225 90L252 152L270 58M252 152L290 186L320 140M290 186L250 200" stroke-width="12"/>
<path d="M290 186L345 302M320 140L342 180L380 204M342 180L374 292" stroke-width="10"/>
<path d="M150 340Q250 372 396 278M100 280Q120 322 192 346" stroke-width="12"/>
</g>
<g transform="translate(550.97 267.91) scale(0.08592 0.08715)" fill="none" stroke="#1c1c1c" stroke-linejoin="round" stroke-linecap="round">
<path d="M60 170L85 95L140 45L185 35L225 90L245 45L290 40L330 95L320 140L405 215L395 285Q350 350 250 385Q190 385 150 340L100 280L105 240L70 190Z" fill="#fff" stroke-width="15"/>
<path d="M168 46L258 220" stroke-width="30" stroke-dasharray="7 7" stroke-linecap="butt" stroke="#111"/>
<path d="M150 50L245 232M185 38L275 212" stroke-width="12"/>
<path d="M85 95L125 112L110 190L70 190M125 112L140 45M105 240L130 200L110 190" stroke-width="11"/>
<path d="M135 200L200 330" stroke-width="17"/>
<path d="M190 215L250 330M218 205L276 318M245 232L190 215M250 200L312 312" stroke-width="11"/>
<path d="M225 90L252 152L270 58M252 152L290 186L320 140M290 186L250 200" stroke-width="12"/>
<path d="M290 186L345 302M320 140L342 180L380 204M342 180L374 292" stroke-width="10"/>
<path d="M150 340Q250 372 396 278M100 280Q120 322 192 346" stroke-width="12"/>
</g>
<g transform="translate(643 140) scale(0.09960)" fill="none" stroke="#1c1c1c" stroke-linejoin="round" stroke-linecap="round">
<path d="M150 220L143 268L128 285L140 318M290 220L297 268L306 285L294 318M176 225L166 246M264 225L274 246" stroke-width="14"/>
<path d="M160 62H275V76H160Z" fill="#222" stroke-width="8"/>
<path d="M172 76h34v56h-34zM236 76h34v56h-34z" fill="#222" stroke-width="6"/>
<path d="M189 82V128M253 82V128" stroke="#bbb" stroke-width="6"/>
<path d="M130 132H305V215H130Z" fill="#fff" stroke-width="11"/>
<path d="M130 142H305" stroke-width="14"/>
<path d="M130 196H305" stroke-width="10"/>
<path d="M206 140h34v56h-34z" fill="#333" stroke-width="6"/>
<path d="M222 146V192" stroke="#aaa" stroke-width="6"/>
</g>
<g transform="translate(643 180) scale(0.09960)" fill="none" stroke="#1c1c1c" stroke-linejoin="round" stroke-linecap="round">
<path d="M185 80H295V92H185Z" fill="#222" stroke-width="8"/>
<path d="M192 92h28v50h-28zM262 92h28v50h-28z" fill="#222" stroke-width="6"/>
<path d="M206 98V138M276 98V138" stroke="#bbb" stroke-width="5"/>
<path d="M155 158Q155 140 175 140H305Q325 140 325 158V225H155Z" fill="#fff" stroke-width="11"/>
<path d="M158 150H322" stroke-width="12"/>
<path d="M155 205H325" stroke-width="9"/>
<path d="M215 150h40v55h-40z" fill="#333" stroke-width="6"/>
<path d="M240 154V200" stroke="#aaa" stroke-width="6"/>
<path d="M155 230H142L134 262L120 270M325 230H340L350 262L366 270M178 242H304M178 242L190 258M304 242L292 258" stroke-width="10"/>
</g>
<g transform="translate(643 220) scale(0.09960)" fill="none" stroke="#1c1c1c" stroke-linejoin="round" stroke-linecap="round">
<path d="M62 338V88H205" stroke-width="16"/>
<path d="M78 100H195" stroke-width="6"/>
<path d="M150 338V160H210" stroke-width="14"/>
<path d="M165 175V240H205" stroke-width="8"/>
<path d="M180 110L190 130M178 200L188 215" stroke-width="8"/>
<path d="M225 78H272V240H225Z" fill="#fff" stroke-width="10"/>
<path d="M228 150H350M228 168H350" stroke-width="9"/>
<path d="M205 72h20v172h-20z" fill="#fff" stroke-width="9"/>
<path d="M272 100H330V130H272ZM272 188H330V215H272Z" fill="#333" stroke-width="7"/>
<path d="M330 100L355 74V150H300M330 215L355 244V170H300" stroke-width="10"/>
<path d="M300 150V168" stroke-width="9"/>
<path d="M232 100H265M232 135H265M232 185H265M232 225H265" stroke-width="9"/>
<path d="M215 244V296L206 308L216 334" stroke-width="10"/>
</g>
<g transform="translate(643 260) scale(0.09960)" fill="none" stroke="#1c1c1c" stroke-linejoin="round" stroke-linecap="round">
<path d="M68 292V50H150" stroke-width="13"/>
<path d="M126 292V56" stroke-width="13"/>
<path d="M126 50H250V192H126Z" fill="#fff" stroke-width="10"/>
<path d="M68 168H250V200H68Z" fill="#fff" stroke-width="10"/>
<path d="M150 60L170 100L185 60M150 110H200V150H150" stroke-width="12"/><path d="M135 60h60v90h-60z" fill="#555" stroke="none"/><path d="M150 62L170 100L186 62" stroke="#fff" stroke-width="7"/>
<path d="M200 56h22v110h-22z" fill="#fff" stroke-width="9"/>
<path d="M40 130H330" stroke-width="6"/>
<path d="M252 82H318V166H252Z" fill="#444" stroke-width="8"/>
<path d="M262 100H312M262 116H312M262 132H312M262 148H312" stroke="#bbb" stroke-width="5"/>
<path d="M318 86L342 56V206L318 168" stroke-width="10"/>
<path d="M226 66H250M226 150H250V190H226" stroke-width="9"/>
<path d="M76 205V294M132 205V294M190 205V240L200 258L188 290" stroke-width="14"/>
</g>
<g transform="translate(0 0) scale(1.00000)" fill="none" stroke="#1c1c1c" stroke-linejoin="round" stroke-linecap="round">
<path d="M207.9 180.4v2.2a8.1 4.4 0 0 0 16.2 0v-2.2" fill="#fff" stroke-width="1.05"/>
<ellipse cx="216" cy="180.4" rx="8.1" ry="4.4" fill="#fff" stroke-width="1.05"/>
<path d="M207.9 206.4v2.2a8.1 4.5 0 0 0 16.2 0v-2.2" fill="#fff" stroke-width="1.05"/>
<ellipse cx="216" cy="206.4" rx="8.1" ry="4.5" fill="#fff" stroke-width="1.05"/>
<ellipse cx="216" cy="206.2" rx="3.3" ry="1.9" stroke-width="1.05"/>
<path d="M211.5 229.1L225.2 231.9L220.2 238.9L205.9 236.1ZM205.9 236.1V239.7L220.2 242.2L225.2 234.9V231.9M220.2 238.9V242.2" fill="#fff" stroke-width="1.05"/>
<path d="M213 257.5L225.7 260.5L221 266L207 263.5ZM207 263.5V267L221 269.5L225.7 263.7V260.5M221 266V269.5" fill="#fff" stroke-width="1.05"/>
<ellipse cx="216.3" cy="261.3" rx="2.6" ry="1.5" stroke-width="0.95"/>
<path d="M207.4 294.5v2.6a8.1 3.5 0 0 0 16.2 0v-2.6" fill="#fff" stroke-width="1.05"/>
<ellipse cx="215.5" cy="294.5" rx="8.1" ry="3.5" fill="#fff" stroke-width="1.05"/>
<path d="M210.3 284.3C210.3 281 219.8 276 220.3 279.5V293.8a5 2 0 0 1 -10 0Z" fill="#fff" stroke-width="1.05"/>
<path d="M210.3 284.3C211.5 287 220.5 282.5 220.3 279.5" stroke-width="0.95"/>
<path d="M207.5 318.5v2.8a8 3.5 0 0 0 16 0v-2.8" fill="#fff" stroke-width="1.05"/>
<ellipse cx="215.5" cy="318.5" rx="8" ry="3.5" fill="#fff" stroke-width="1.05"/>
<path d="M211.5 308.2v9a4 1.6 0 0 0 8 0v-9" fill="#fff" stroke-width="1.05"/>
<ellipse cx="215.5" cy="308.2" rx="4" ry="1.6" fill="#fff" stroke-width="1.05"/>
<path d="M196.3 339.3v3a12 6.3 0 0 0 24 0v-3" fill="#fff" stroke-width="1.05"/>
<ellipse cx="208.3" cy="339.3" rx="12" ry="6.3" fill="#fff" stroke-width="1.05"/>
</g>
</svg>
</body></html>
